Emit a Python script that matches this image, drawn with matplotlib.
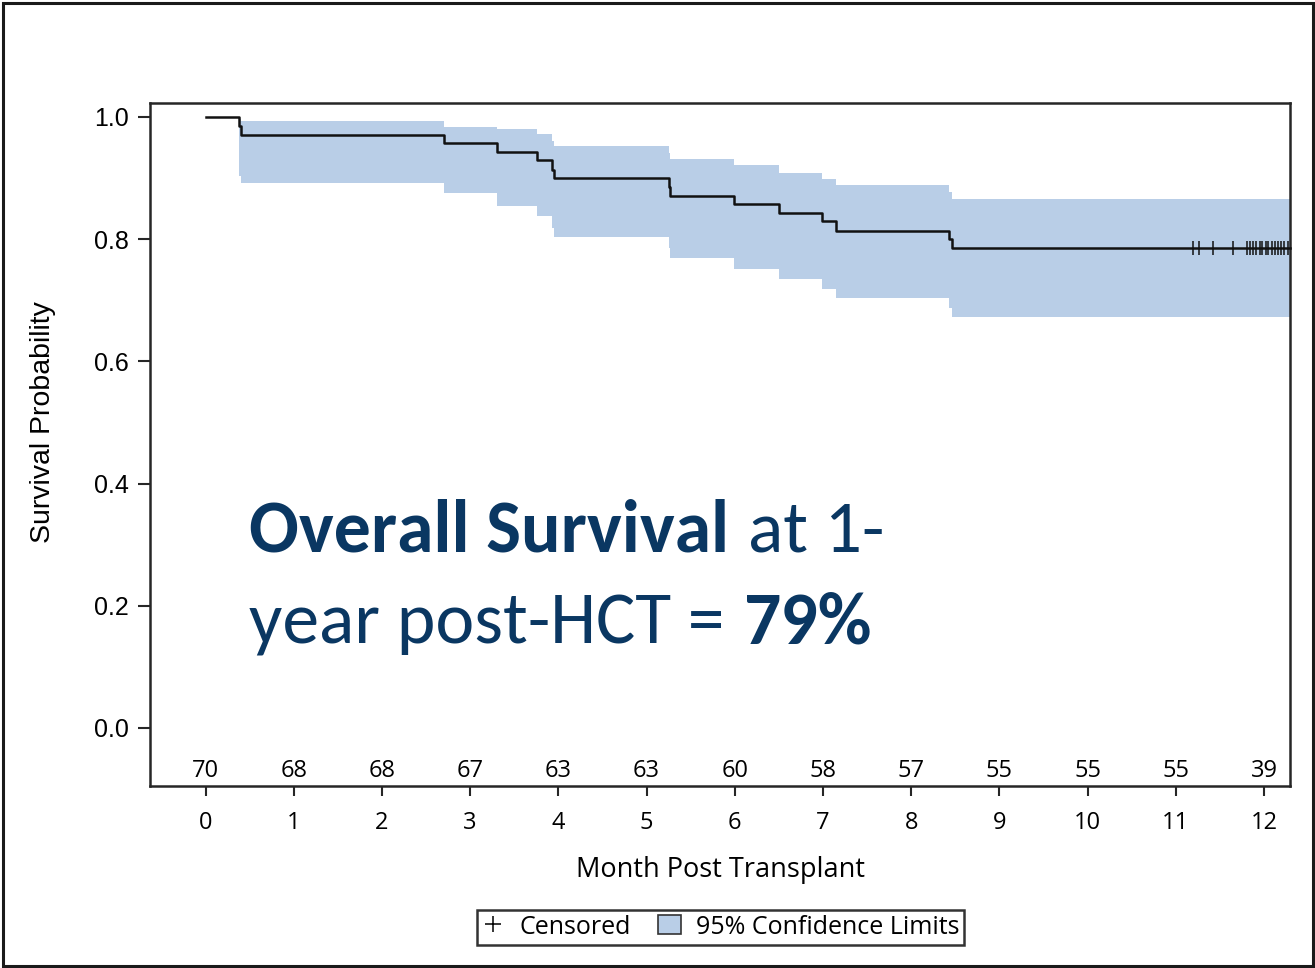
import matplotlib
matplotlib.use("Agg")
import matplotlib.pyplot as plt
from matplotlib.lines import Line2D
from matplotlib.patches import Patch, Rectangle
from matplotlib import font_manager as fm

# ---------------- data ----------------
event_months = [0.377, 0.404, 2.708, 3.305, 3.759, 3.929, 3.955, 5.25, 5.27,
                5.99, 6.496, 6.988, 7.15, 8.434, 8.46]
survival = [0.986, 0.971, 0.957, 0.943, 0.929, 0.914, 0.900, 0.886, 0.871,
            0.857, 0.843, 0.829, 0.814, 0.800, 0.786]
ci_upper = [0.996, 0.994, 0.984, 0.980, 0.972, 0.960, 0.952, 0.941, 0.931,
            0.921, 0.909, 0.898, 0.889, 0.877, 0.865]
ci_lower = [0.903, 0.892, 0.875, 0.855, 0.838, 0.818, 0.804, 0.785, 0.769,
            0.752, 0.735, 0.718, 0.703, 0.687, 0.672]
censored_months = [11.19, 11.26, 11.42, 11.65, 11.81, 11.84, 11.88, 11.91,
                   11.95, 11.98, 12.02, 12.05, 12.09, 12.12, 12.16, 12.19,
                   12.23, 12.27]
followup_end = 12.29
risk_months = [0, 1, 2, 3, 4, 5, 6, 7, 8, 9, 10, 11, 12]
at_risk = [70, 68, 68, 67, 63, 63, 60, 58, 57, 55, 55, 55, 39]
y_ticks = [0.0, 0.2, 0.4, 0.6, 0.8, 1.0]

# ---------------- fonts ----------------
avail = {f.name for f in fm.fontManager.ttflist}
def pick(cands):
    for c in cands:
        if c in avail:
            return c
    return "DejaVu Sans"
F_Y = pick(["Liberation Sans", "Arial"])
F_X = pick(["Open Sans", "Noto Sans"])
F_BIG = pick(["Carlito", "Lato", "Open Sans"])

BAND = "#b9cee7"
NAVY = "#0a3762"
SPINE = "#262626"

W, H = 1315, 968
fig = plt.figure(figsize=(W / 100, H / 100), dpi=100)
fig.patch.set_facecolor("white")

ax = fig.add_axes([150 / W, 1 - 786 / H, (1290 - 150) / W, (786 - 102.7) / H])
ax.set_xlim(-0.63, 12.295)
ax.set_ylim(-0.095, 1.0234)

# confidence band
tb = event_months + [followup_end]
ax.fill_between(tb, ci_lower + [ci_lower[-1]], ci_upper + [ci_upper[-1]],
                step="post", color=BAND, lw=0, zorder=1)

# KM step line
tl = [0.0] + event_months + [followup_end]
sl = [1.0] + survival + [survival[-1]]
ax.step(tl, sl, where="post", color="#111111", lw=1.8, zorder=3, clip_on=False)

# censor marks
ax.plot(censored_months, [survival[-1]] * len(censored_months), ls="none",
        marker="|", ms=10, mew=1.1, color="#111111", zorder=4)

# numbers at risk
for m, n in zip(risk_months, at_risk):
    ax.text(m, -0.071, str(n), ha="center", va="center", fontsize=17,
            family=F_X, color="black")

# axes styling
for s in ax.spines.values():
    s.set_linewidth(1.8)
    s.set_color(SPINE)
ax.set_yticks(y_ticks)
ax.set_yticklabels([f"{v:.1f}" for v in y_ticks], family=F_Y, fontsize=18)
ax.set_xticks(risk_months)
ax.set_xticklabels([str(m) for m in risk_months], family=F_X, fontsize=17)
ax.tick_params(axis="y", length=9, width=1.5, pad=6, color=SPINE)
ax.tick_params(axis="x", length=7.5, width=1.5, pad=10.5, color=SPINE)
ax.set_ylabel("Survival Probability", family=F_Y, fontsize=20.5)
ax.yaxis.set_label_coords((56 - 150) / 1140, (786 - 422) / 683.3)
ax.set_xlabel("Month Post Transplant", family=F_X, fontsize=19.5, labelpad=15)

# legend
handles = [Line2D([], [], ls="none", marker="+", ms=12, mew=1.1, color="black"),
           Patch(facecolor=BAND, edgecolor="#333333", lw=1.2)]
leg = fig.legend(handles, ["Censored", "95% Confidence Limits"], loc="center",
                 bbox_to_anchor=(720.5 / W, 1 - 927 / H), ncol=2, frameon=True,
                 fancybox=False, prop={"family": F_X, "size": 18},
                 handlelength=0.9, handletextpad=0.6, columnspacing=1.1,
                 borderpad=0.2, handleheight=0.8)
leg.get_frame().set_edgecolor("black")
leg.get_frame().set_linewidth(1.8)

# outer border
fig.patches.append(Rectangle((2.5 / W, 2.5 / H), 1 - 5 / W, 1 - 5 / H,
                             transform=fig.transFigure, fill=False,
                             lw=2.2, edgecolor="#1a1a1a"))

# big annotation (two lines, mixed weights)
size0 = 40
line1 = [("Overall Survival", "bold"), ("at 1-", "normal")]
line2 = [("year post-HCT =", "normal"), ("79%", "bold")]

def build(size):
    objs = []
    for parts, yb in ((line1, 1 - 552 / H), (line2, 1 - 643 / H)):
        first = fig.text(249 / W, yb, parts[0][0], fontsize=size,
                         fontweight=parts[0][1], color=NAVY, family=F_BIG,
                         ha="left", va="baseline")
        second = ax.annotate(parts[1][0], xy=(1, 0), xycoords=first,
                             xytext=(size * 0.25, 0), textcoords="offset points",
                             fontsize=size, fontweight=parts[1][1], color=NAVY,
                             family=F_BIG, ha="left", va="bottom",
                             annotation_clip=False)
        objs.append((first, second))
    return objs

objs = build(size0)
fig.canvas.draw()
r = fig.canvas.get_renderer()
b1 = objs[0][0].get_window_extent(r)
b2 = objs[0][1].get_window_extent(r)
scale = 633.0 / (b2.x1 - b1.x0)
for a, b in objs:
    a.remove(); b.remove()
objs = build(size0 * scale)

fig.savefig("out.png", dpi=100)
